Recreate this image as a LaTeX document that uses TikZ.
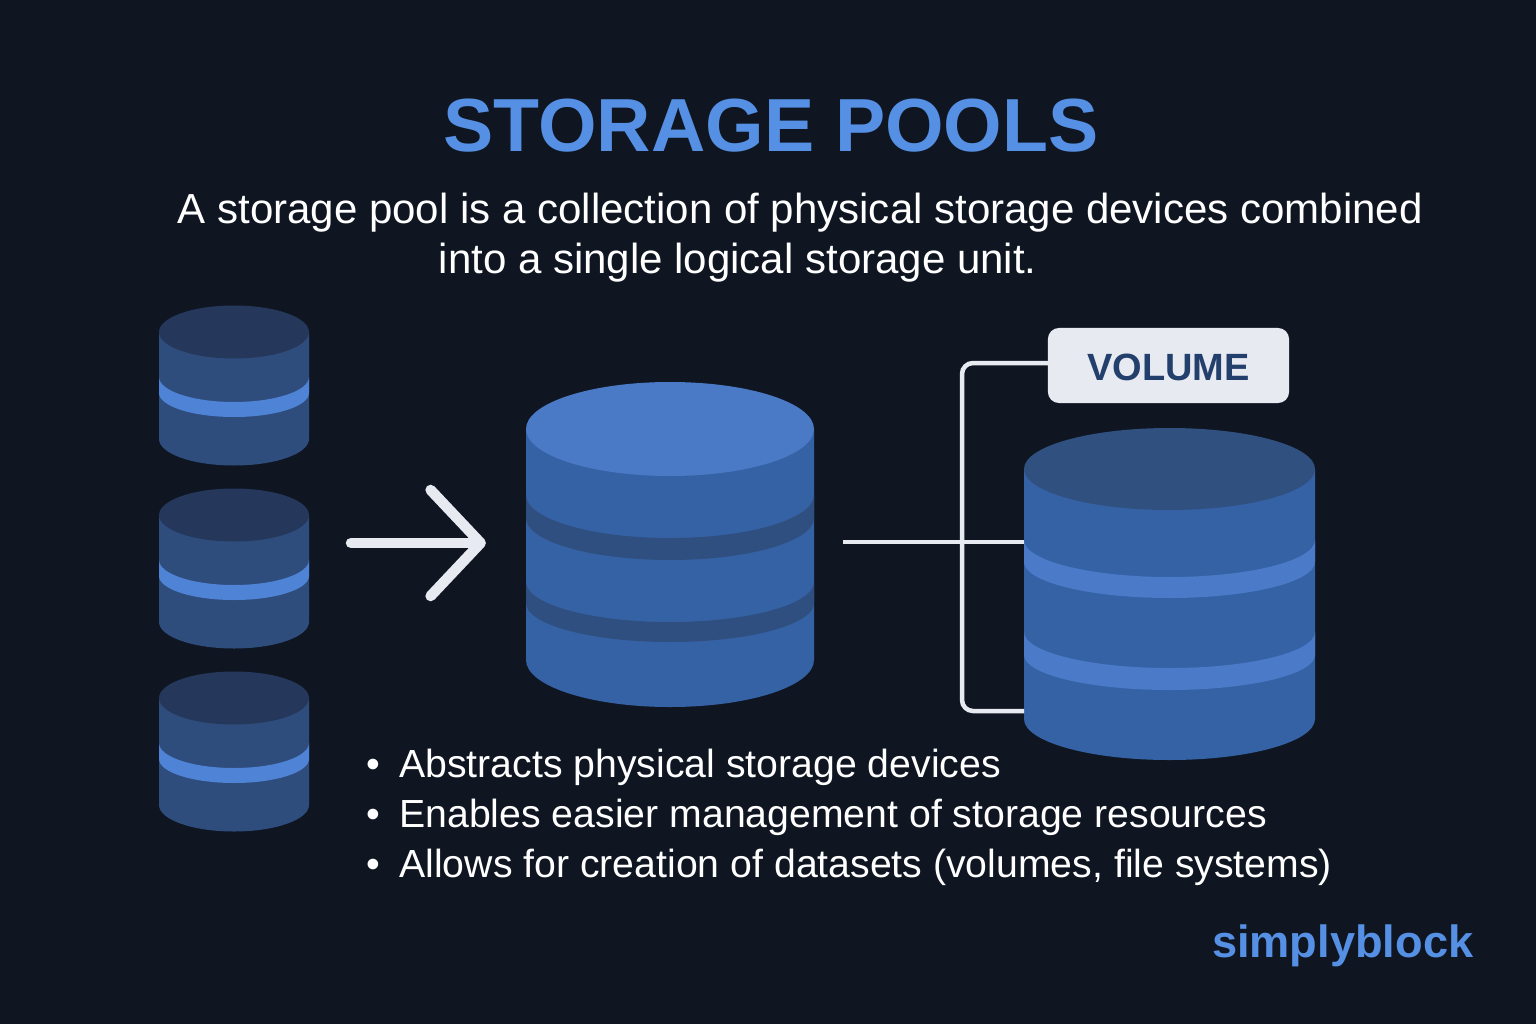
\documentclass[tikz,border=0pt]{standalone}
\usepackage{fontspec}
\setmainfont{Liberation Sans}
\usetikzlibrary{arrows.meta}
\definecolor{pagebg}{HTML}{0F1622}
\definecolor{accentblue}{HTML}{5590E4}
\definecolor{paleline}{HTML}{E8EAF2}
\definecolor{labelink}{HTML}{233F6B}
\definecolor{disktop}{HTML}{25375A}
\definecolor{diskside}{HTML}{2E4D7D}
\definecolor{diskband}{HTML}{4F83D6}
\definecolor{pooltop}{HTML}{4A7AC6}
\definecolor{poolside}{HTML}{3562A5}
\definecolor{poolband}{HTML}{2F4F80}
\definecolor{voltop}{HTML}{30507F}
\definecolor{volband}{HTML}{4A7AC8}
\tikzset{
	drumbox/.style={inner sep=0pt, outer sep=0pt},
	titletext/.style={anchor=base, inner sep=0pt, text=accentblue, font=\fontsize{21.4pt}{26pt}\selectfont\bfseries},
	introtext/.style={anchor=base west, inner sep=0pt, text=white, font=\fontsize{11.95pt}{14pt}\selectfont},
	bullettext/.style={anchor=base west, inner sep=0pt, text=white, font=\fontsize{11.15pt}{14pt}\selectfont},
	linkline/.style={draw=paleline, line width=.045cm},
	bigarrow/.style={draw=paleline, line width=.105cm, line cap=round, -{Straight Barb[length=.5cm, width=1.06cm, round]}},
}
\newcommand{\drumshape}[7]{
	\fill[#6] (#1-#4,#2) -- (#1-#4,#3) arc[start angle=180, end angle=0, x radius=#4, y radius=#5] -- (#1+#4,#2) -- cycle;
	\fill[#7] (#1,#2) ellipse [x radius=#4, y radius=#5];
}
\newcommand{\drumband}[6]{
	\fill[#6] (#1-#4,#2) arc[start angle=180, end angle=0, x radius=#4, y radius=#5] -- (#1+#4,#3) arc[start angle=0, end angle=180, x radius=#4, y radius=#5-1] -- (#1-#4,#2) -- cycle;
}
\begin{document}
\begin{tikzpicture}[x=.01cm, y=-.01cm]
	\fill[pagebg] (0,0) rectangle (1536,1024);
	\useasboundingbox (0,0) rectangle (1536,1024);
	\node (title) [titletext] at (771,151) {STORAGE POOLS};
	\node (introa) [introtext] at (177,223) {A storage pool is a collection of physical storage devices combined};
	\node (introb) [introtext] at (438,273) {into a single logical storage unit.};
	\drumshape{234}{332}{439}{75}{26.5}{diskside}{disktop}
	\drumband{234}{377}{393}{75}{25}{diskband}
	\drumshape{234}{515}{622}{75}{26.5}{diskside}{disktop}
	\drumband{234}{560}{576}{75}{25}{diskband}
	\drumshape{234}{698}{805}{75}{26.5}{diskside}{disktop}
	\drumband{234}{743}{759}{75}{25}{diskband}
	\drumshape{670}{429}{660}{144}{47}{poolside}{pooltop}
	\drumband{670}{495}{518}{144}{43}{poolband}
	\drumband{670}{582}{603}{144}{40}{poolband}
	\drumshape{1169.5}{469}{719}{145.5}{41}{poolside}{voltop}
	\drumband{1169.5}{540}{562}{145.5}{37}{volband}
	\drumband{1169.5}{632}{655}{145.5}{36}{volband}
	\node (pool) [drumbox, minimum width=2.88cm, minimum height=3.24cm] at (670,542) {};
	\node (volume) [drumbox, minimum width=2.91cm, minimum height=3.33cm] at (1169.5,593.5) {};
	\node (volumelabel) [fill=paleline, rounded corners=.11cm, minimum width=2.41cm, minimum height=.75cm, inner sep=0pt, text height=.30cm, text=labelink, font=\fontsize{10.8pt}{14pt}\selectfont\bfseries] at (1168.5,365.5) {VOLUME};
	\coordinate (arrowtail) at (351,543);
	\coordinate (brackettop) at (1048,363);
	\coordinate (bracketfoot) at (1024,711);
	\draw[bigarrow, shorten >=.4cm] (arrowtail) -- (arrowtail -| pool.west);
	\draw[linkline, shorten <=.29cm] (pool.east) -- (pool.east -| volume.west);
	\draw[linkline, rounded corners=.11cm] (brackettop) -- (962,363) -- (962,711) -- (bracketfoot);
	\node (itema) [bullettext] at (366,777) {•\hspace{.19cm}Abstracts physical storage devices};
	\node (itemb) [bullettext] at (366,827) {•\hspace{.19cm}Enables easier management of storage resources};
	\node (itemc) [bullettext] at (366,877) {•\hspace{.19cm}Allows for creation of datasets (volumes, file systems)};
	\node (brand) [anchor=base east, inner sep=0pt, text=accentblue, font=\fontsize{12.85pt}{16pt}\selectfont\bfseries] at (1474,957) {simplyblock};
\end{tikzpicture}
\end{document}
